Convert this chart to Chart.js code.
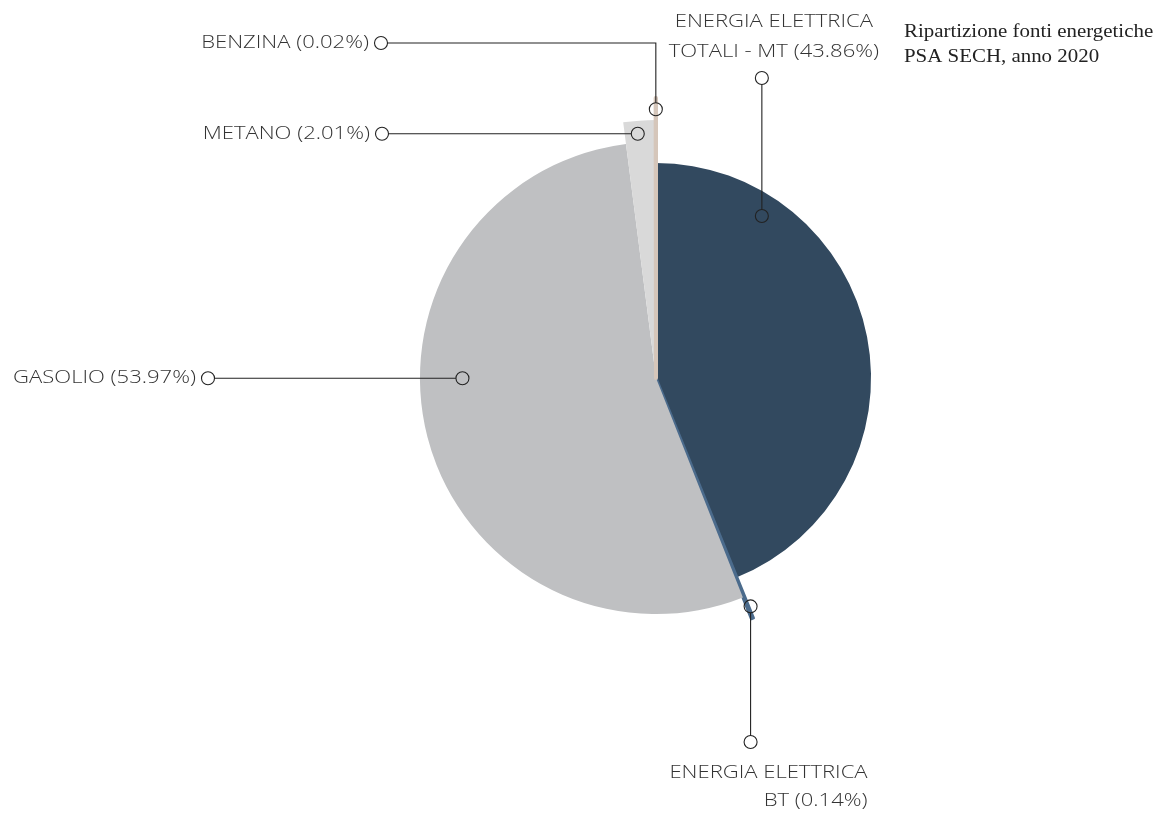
<!DOCTYPE html>
<html>
<head>
<meta charset="utf-8">
<script src="https://cdn.jsdelivr.net/npm/chart.js@4.4.1/dist/chart.umd.min.js"></script>
<style>
  body { margin: 0; background: #fff; }
  canvas { display: block; }
</style>
</head>
<body>
<canvas id="myChart" width="1158" height="813"></canvas>
<script>
const categories = ['ENERGIA ELETTRICA\nTOTALI - MT', 'ENERGIA ELETTRICA\nBT', 'GASOLIO', 'METANO', 'BENZINA'];
const percentages = [43.86, 0.14, 53.97, 2.01, 0.02];
const titleLines = ['Ripartizione fonti energetiche', 'PSA SECH, anno 2020'];

const colors = ['#32495f', '#4b6b8c', '#bfc0c2', '#d9d9d9', '#d5c6ba'];
// outer radius of each slice, as a share of the largest one
const radiusShare = [0.768, 0.925, 0.843, 0.921, 1.0];

// callout layout: where the leader starts on the slice and how it runs
const callouts = [
  { at: 0.21, rf: 0.90, path: 'up', to: -300, dx: 12 },
  { at: 0.5, rf: 0.95, path: 'down', to: 364, dx: 117, nx: 3 },
  { at: 0.574, rf: 0.82, path: 'left', to: -448 },
  { at: 0.42, rf: 0.95, path: 'left', to: -274 },
  { at: 0.5, rf: 0.96, path: 'upleft', to: -335, to2: -275 }
];

const ctx = document.getElementById('myChart');

const radiusPlugin = {
  id: 'radiusPlugin',
  afterDatasetsUpdate(chart) {
    const meta = chart.getDatasetMeta(0);
    const maxR = Math.min(chart.chartArea.width, chart.chartArea.height) / 2;
    meta.data.forEach(function (el, i) {
      el.outerRadius = maxR * radiusShare[i];
    });
  }
};

function ring(c, x, y) {
  c.beginPath();
  c.arc(x, y, 6.5, 0, Math.PI * 2);
  c.stroke();
}

// wide text: stretch horizontally to get close to the original geometric font
function wideText(c, text, x, y, align, sx) {
  c.save();
  c.translate(x, y);
  c.scale(sx, 1);
  c.textAlign = align;
  c.fillText(text, 0, 0);
  c.restore();
}

const calloutPlugin = {
  id: 'calloutPlugin',
  afterDatasetsDraw(chart) {
    const c = chart.ctx;
    const meta = chart.getDatasetMeta(0);
    const sx = 1.26;
    c.save();
    c.strokeStyle = '#222';
    c.lineWidth = 1.1;
    c.font = '300 17.5px "Open Sans", sans-serif';
    c.fillStyle = '#333';
    c.textBaseline = 'middle';
    meta.data.forEach(function (el, i) {
      const co = callouts[i];
      const cx = el.x, cy = el.y;
      const a = el.startAngle + (el.endAngle - el.startAngle) * co.at;
      const r = el.outerRadius * co.rf;
      const ax = cx + r * Math.cos(a) + (co.nx || 0);
      const ay = cy + r * Math.sin(a);
      const lines = categories[i].split('\n');
      lines[lines.length - 1] += ' (' + percentages[i].toFixed(2) + '%)';
      c.beginPath();
      let ex, ey;
      if (co.path === 'up') {
        ex = ax; ey = cy + co.to;
        c.moveTo(ax, ay - 6.5); c.lineTo(ex, ey + 6.5);
      } else if (co.path === 'down') {
        ex = ax; ey = cy + co.to;
        c.moveTo(ax, ay + 6.5); c.lineTo(ex, ey - 6.5);
      } else if (co.path === 'left') {
        ex = cx + co.to; ey = ay;
        c.moveTo(ax - 6.5, ay); c.lineTo(ex + 6.5, ey);
      } else {
        ex = cx + co.to2; ey = cy + co.to;
        c.moveTo(ax, ay - 6.5); c.lineTo(ax, ey); c.lineTo(ex + 6.5, ey);
      }
      c.stroke();
      ring(c, ax, ay);
      ring(c, ex, ey);
      if (co.path === 'up') {
        wideText(c, lines[0], ex + co.dx, ey - 56, 'center', sx);
        wideText(c, lines[1], ex + co.dx, ey - 26, 'center', sx);
      } else if (co.path === 'down') {
        wideText(c, lines[0], ex + co.dx, ey + 31, 'right', sx);
        wideText(c, lines[1], ex + co.dx, ey + 59, 'right', sx);
      } else {
        wideText(c, lines[0], ex - 12, ey, 'right', sx);
      }
    });
    c.font = '19px "Liberation Serif", serif';
    c.fillStyle = '#222';
    wideText(c, titleLines[0], 904, 32, 'left', 1.1);
    wideText(c, titleLines[1], 904, 57, 'left', 1.1);
    c.restore();
  }
};

const myChart = new Chart(ctx, {
  type: 'pie',
  data: {
    labels: categories,
    datasets: [{
      data: percentages,
      backgroundColor: colors,
      borderColor: colors,
      borderWidth: [0, 3, 0, 0, 4],
      borderJoinStyle: 'round'
    }]
  },
  options: {
    responsive: false,
    animation: false,
    events: [],
    layout: { padding: { left: 376, right: 222, top: 98, bottom: 155 } },
    plugins: {
      legend: { display: false },
      tooltip: { enabled: false }
    }
  },
  plugins: [radiusPlugin, calloutPlugin]
});
</script>
</body>
</html>
